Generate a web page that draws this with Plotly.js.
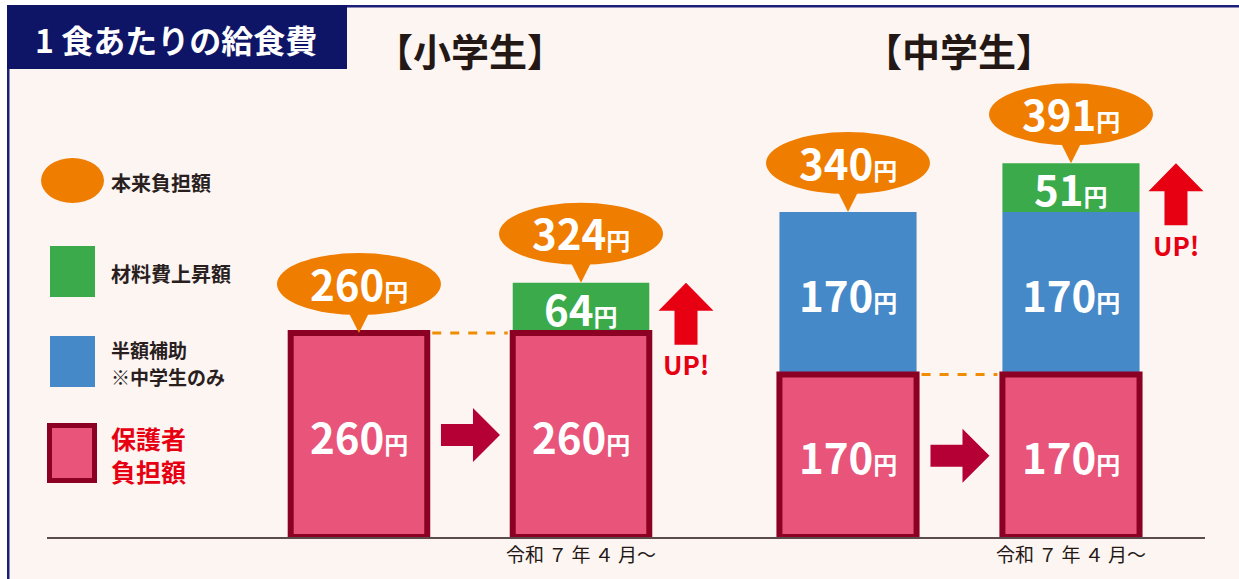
<!DOCTYPE html>
<html><head><meta charset="utf-8">
<script src="https://cdn.plot.ly/plotly-3.0.1.min.js"></script>
<style>html,body{margin:0;padding:0;background:#ffffff}</style>
</head><body><div id="chart" style="width:1239px;height:579px"></div>
<script>
// ---- data ----
const categories = ['現行', '令和７年４月～'];
const tickLabels = ['', '令和 ７ 年 ４ 月～'];
const groupTitles = ['【小学生】', '【中学生】'];
const elemParent = [260, 260];   // 保護者負担額
const elemSubsidy = [0, 0];      // 半額補助（中学生のみ）
const elemRise = [0, 64];        // 材料費上昇額
const midParent = [170, 170];
const midSubsidy = [170, 170];
const midRise = [0, 51];
const legendLabels = ['本来負担額', '材料費上昇額', '半額補助', '※中学生のみ', '保護者<br>負担額'];
const chartTitle = '1 食あたりの給食費';
const unit = '円';

// ---- styling ----
const FONT = '"Noto Sans CJK JP", "Noto Sans", sans-serif';
const C = {orange:'#ef7d00', green:'#3aaa4a', blue:'#4589c8', pink:'#e8547a', maroon:'#8c0024',
           arrow:'#b50036', red:'#e60012', navy:'#0f1566', text:'#2a1f1f', bg:'#fdf5f2', axis:'#5b4b4b'};
const W = 1239, H = 579, ML = 47, MR = 34, MT = 20, MB = 42;
const PW = W - ML - MR, PH = H - MT - MB;
const px = x => (x - ML) / PW;
const py = y => (H - MB - y) / PH;
const lab = (v, small) => '<b>' + v + '<span style="font-size:' + small + 'px">' + unit + '</span></b>';

const groups = [
  {xa:'x', ya:'y', parent:elemParent, subsidy:elemSubsidy, rise:elemRise, title:groupTitles[0]},
  {xa:'x2', ya:'y2', parent:midParent, subsidy:midSubsidy, rise:midRise, title:groupTitles[1]}
];

const traces = [], shapes = [], annotations = [];
const BW = 0.615;

// frame & title box
shapes.push({type:'rect', xref:'paper', yref:'paper', x0:px(0), x1:px(7), y0:py(H), y1:py(0), fillcolor:'#ffffff', line:{width:0}});
shapes.push({type:'rect', xref:'paper', yref:'paper', x0:px(0), x1:px(W), y0:py(5), y1:py(0), fillcolor:'#ffffff', line:{width:0}});
shapes.push({type:'rect', xref:'paper', yref:'paper', x0:px(7), x1:px(W), y0:py(7.5), y1:py(5), fillcolor:'#1b1f78', line:{width:0}});
shapes.push({type:'rect', xref:'paper', yref:'paper', x0:px(7), x1:px(9.5), y0:py(H), y1:py(5), fillcolor:'#1b1f78', line:{width:0}});
shapes.push({type:'rect', xref:'paper', yref:'paper', x0:px(7), x1:px(347), y0:py(69), y1:py(5), fillcolor:C.navy, line:{width:0}});
annotations.push({xref:'paper', yref:'paper', x:px(176), y:py(39), text:'<b>' + chartTitle + '</b>', showarrow:false,
  font:{family:FONT, size:32, color:'#ffffff'}, xanchor:'center', yanchor:'middle'});

groups.forEach(g => {
  const total = g.parent.map((p, i) => p + g.subsidy[i] + g.rise[i]);
  const base2 = g.parent.map((p, i) => p + g.subsidy[i]);
  traces.push({type:'bar', x:categories, y:g.subsidy, base:g.parent, width:BW, xaxis:g.xa, yaxis:g.ya,
    marker:{color:C.blue, line:{width:0}}, hoverinfo:'skip', showlegend:false});
  traces.push({type:'bar', x:categories, y:g.rise, base:base2, width:BW, xaxis:g.xa, yaxis:g.ya,
    marker:{color:C.green, line:{width:0}}, hoverinfo:'skip', showlegend:false});
  traces.push({type:'bar', x:categories, y:g.parent, base:[0, 0], width:BW, xaxis:g.xa, yaxis:g.ya,
    marker:{color:C.pink, line:{width:6, color:C.maroon}}, hoverinfo:'skip', showlegend:false});

  categories.forEach((c, i) => {
    const segs = [[g.parent[i], 0], [g.subsidy[i], g.parent[i]], [g.rise[i], base2[i]]];
    segs.forEach(([v, b]) => {
      if (v > 0) annotations.push({xref:g.xa, yref:g.ya, x:i, y:b + v / 2, text:lab(v, 24), showarrow:false,
        font:{family:FONT, size:42, color:'#ffffff'}, xanchor:'center', yanchor:'middle'});
    });
    // bubble
    shapes.push({type:'circle', xref:g.xa, yref:g.ya, xsizemode:'pixel', ysizemode:'pixel', xanchor:i, yanchor:total[i],
      x0:-82, x1:82, y0:18, y1:80, fillcolor:C.orange, line:{width:0}});
    shapes.push({type:'path', xref:g.xa, yref:g.ya, xsizemode:'pixel', ysizemode:'pixel', xanchor:i, yanchor:total[i],
      path:'M -13,26 L 13,26 L 0,0 Z', fillcolor:C.orange, line:{width:0}});
    annotations.push({xref:g.xa, yref:g.ya, x:i, y:total[i], yshift:51, text:lab(total[i], 24), showarrow:false,
      font:{family:FONT, size:42, color:'#ffffff'}, xanchor:'center', yanchor:'middle'});
    // up arrow
    if (g.rise[i] > 0) {
      shapes.push({type:'path', xref:g.xa, yref:g.ya, xsizemode:'pixel', ysizemode:'pixel', xanchor:i, yanchor:total[i],
        path:'M 105,0 L 132.5,-28 L 116.5,-28 L 116.5,-62 L 93.5,-62 L 93.5,-28 L 77.5,-28 Z', fillcolor:C.red, line:{width:0}});
      annotations.push({xref:g.xa, yref:g.ya, x:i, xshift:105, y:total[i], yshift:-81, text:'<b>UP!</b>', showarrow:false,
        font:{family:FONT, size:26, color:C.red}, xanchor:'center', yanchor:'middle'});
    }
  });
  // dashed guide between parent bars
  shapes.push({type:'line', xref:g.xa, yref:g.ya, x0:0.33, x1:0.67, y0:g.parent[0], y1:g.parent[1],
    line:{color:'#f08c00', width:3, dash:'dash'}});
  // right arrow
  shapes.push({type:'path', xref:g.xa, yref:g.ya, xsizemode:'pixel', ysizemode:'pixel', xanchor:0.5, yanchor:g.parent[0] / 2,
    path:'M -29,11 L 3,11 L 3,27 L 30,0 L 3,-27 L 3,-11 L -29,-11 Z', fillcolor:C.arrow, line:{width:0}});
  // group title
  annotations.push({xref:g.xa, yref:'paper', x:0.5, y:py(49), text:'<b>' + g.title + '</b>', showarrow:false,
    font:{family:FONT, size:38, color:'#231815'}, xanchor:'center', yanchor:'middle'});
});

// legend (drawn)
shapes.push({type:'circle', xref:'paper', yref:'paper', x0:px(41), x1:px(104), y0:py(203), y1:py(158), fillcolor:C.orange, line:{width:0}});
shapes.push({type:'rect', xref:'paper', yref:'paper', x0:px(50), x1:px(95), y0:py(297), y1:py(246), fillcolor:C.green, line:{width:0}});
shapes.push({type:'rect', xref:'paper', yref:'paper', x0:px(50), x1:px(95), y0:py(387), y1:py(336), fillcolor:C.blue, line:{width:0}});
shapes.push({type:'rect', xref:'paper', yref:'paper', x0:px(49.5), x1:px(94.5), y0:py(480.5), y1:py(425.5), fillcolor:C.pink, line:{width:5, color:C.maroon}});
const legPos = [[109, 182, C.text, 20], [109, 273, C.text, 20], [109, 349, C.text, 19], [109, 376, C.text, 19], [109, 454, C.red, 25]];
legendLabels.forEach((t, k) => {
  const [x, y, col, sz] = legPos[k];
  annotations.push({xref:'paper', yref:'paper', x:px(x), y:py(y), text:'<b>' + t + '</b>', showarrow:false,
    font:{family:FONT, size:sz, color:col}, xanchor:'left', yanchor:'middle', align:'left'});
});

const d = (720 - ML) / PW;
const xCommon = {type:'category', showline:true, linecolor:C.axis, linewidth:2, showgrid:false, zeroline:false,
  ticks:'', tickvals:categories, ticktext:tickLabels, tickfont:{family:FONT, size:19, color:'#231815'},
  layer:'below traces', fixedrange:true};
const layout = {
  width:W, height:H, margin:{l:ML, r:MR, t:MT, b:MB, pad:0},
  paper_bgcolor:C.bg, plot_bgcolor:C.bg, barmode:'overlay', showlegend:false,
  xaxis:Object.assign({}, xCommon, {domain:[0, d], range:[-1.405, 1.626], anchor:'y'}),
  xaxis2:Object.assign({}, xCommon, {domain:[d, 1], range:[-0.574, 1.601], anchor:'y2'}),
  yaxis:{range:[0, 659], visible:false, domain:[0, 1], anchor:'x', fixedrange:true},
  yaxis2:{range:[0, 541], visible:false, domain:[0, 1], anchor:'x2', fixedrange:true},
  shapes:shapes, annotations:annotations, font:{family:FONT}
};
Plotly.newPlot('chart', traces, layout, {displayModeBar:false, staticPlot:true});
</script></body></html>
